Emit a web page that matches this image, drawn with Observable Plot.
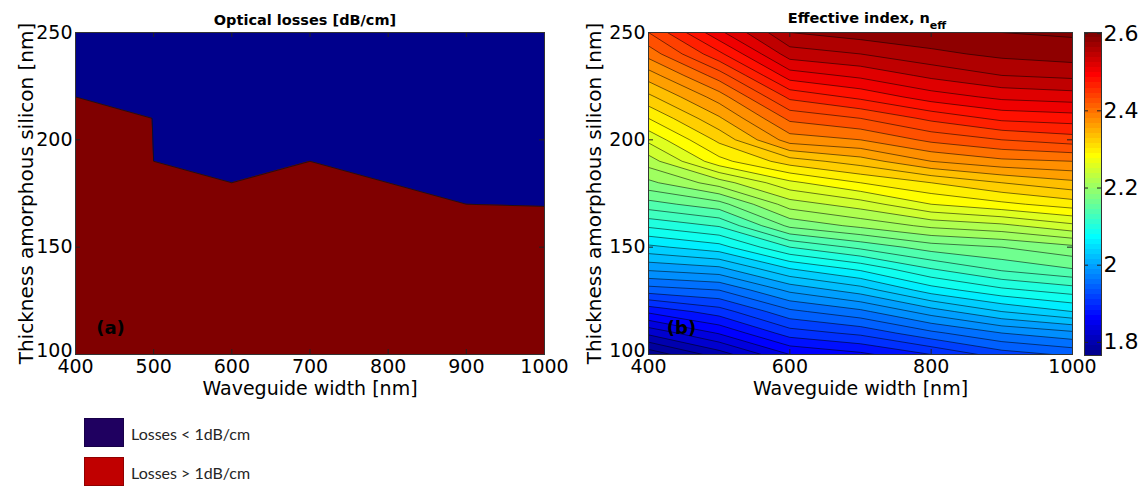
<!DOCTYPE html>
<html><head><meta charset="utf-8">
<script src="https://cdn.jsdelivr.net/npm/d3@7"></script>
<script src="https://cdn.jsdelivr.net/npm/@observablehq/plot@0.6"></script>
<style>
html,body{margin:0;padding:0;background:#fff;}
#wrap{position:relative;width:1142px;height:486px;overflow:hidden;font-family:"DejaVu Sans",sans-serif;color:#000;}
.abs{position:absolute;}
.title{font-weight:bold;font-size:14.5px;white-space:nowrap;transform:translate(-50%,-50%);}
.sw{position:absolute;left:84px;width:40px;height:29px;box-sizing:border-box;border:1px solid rgba(0,0,0,0.25);}
.lg{position:absolute;left:131px;font-family:Lato,sans-serif;font-size:16px;color:#262626;white-space:nowrap;transform:translateY(-50%);}
</style></head>
<body><div id="wrap"></div>
<script>
// ---- Panel (a): loss boundary (thickness above which losses < 1 dB/cm)
const lossWidth = [400, 498, 500, 600, 700, 800, 900, 1000];
const lossThickness = [220, 210, 190, 180, 190, 180, 170, 169];

// ---- Panel (b): effective index grid, one array per waveguide width (thickness 100 -> 250 nm)
const widths = [400, 500, 600, 700, 800, 900, 1000];
const thicknesses = [100, 110, 120, 130, 140, 150, 160, 170, 180, 190, 200, 210, 220, 230, 240, 250];
const neff400  = [1.766, 1.825, 1.884, 1.950, 2.005, 2.055, 2.104, 2.152, 2.195, 2.230, 2.265, 2.300, 2.335, 2.370, 2.408, 2.440];
const neff500  = [1.810, 1.862, 1.910, 1.960, 2.015, 2.072, 2.122, 2.172, 2.230, 2.293, 2.325, 2.357, 2.390, 2.430, 2.475, 2.515];
const neff600  = [1.860, 1.910, 1.955, 2.005, 2.060, 2.120, 2.185, 2.230, 2.275, 2.330, 2.390, 2.425, 2.465, 2.510, 2.550, 2.580];
const neff700  = [1.875, 1.925, 1.975, 2.030, 2.085, 2.145, 2.205, 2.250, 2.300, 2.350, 2.400, 2.440, 2.485, 2.525, 2.560, 2.590];
const neff800  = [1.900, 1.955, 2.010, 2.070, 2.120, 2.170, 2.225, 2.280, 2.320, 2.380, 2.425, 2.465, 2.510, 2.545, 2.575, 2.595];
const neff900  = [1.930, 1.980, 2.040, 2.095, 2.145, 2.180, 2.235, 2.295, 2.340, 2.395, 2.440, 2.485, 2.525, 2.560, 2.585, 2.600];
const neff1000 = [1.944, 1.995, 2.060, 2.110, 2.160, 2.195, 2.255, 2.310, 2.355, 2.400, 2.450, 2.490, 2.530, 2.565, 2.590, 2.603];

// ---- ticks & labels
const xTicksA = [400, 500, 600, 700, 800, 900, 1000];
const xTicksB = [400, 600, 800, 1000];
const yTicks = [100, 150, 200, 250];
const cbTicks = [1.8, 2, 2.2, 2.4, 2.6];
const titleA = "Optical losses [dB/cm]";
const titleB = "Effective index, n";
const titleBSub = "eff";
const xLabel = "Waveguide width [nm]";
const yLabel = "Thickness amorphous silicon [nm]";
const panelTags = ["(a)", "(b)"];
const legendLabels = ["Losses < 1dB/cm", "Losses > 1dB/cm"];

// ---- styling
const FONT = "DejaVu Sans";
const BLUE = "#00008C", RED = "#800000";
const LEG_COLORS = ["#1F0060", "#C00000"];
const NC = 64;

function clamp01(v){ return Math.max(0, Math.min(1, v)); }
function jetRaw(t){
  t = clamp01(t);
  const r = clamp01(1.5 - Math.abs(4*t - 3));
  const g = clamp01(1.5 - Math.abs(4*t - 2));
  const b = clamp01(1.5 - Math.abs(4*t - 1));
  return d3.rgb(r*255, g*255, b*255).formatHex();
}
// 64-entry colormap lookup (index = floor(t*64))
function jet(t){
  const k = Math.max(0, Math.min(NC - 1, Math.floor(clamp01(t) * NC)));
  return jetRaw((k + 1) / NC);
}

const columns = [neff400, neff500, neff600, neff700, neff800, neff900, neff1000];
const grid = thicknesses.flatMap((t, i) => widths.map((w, j) => columns[j][i]));
const ext = d3.extent(grid);
const levels = d3.range(88, 131).map(k => k / 50);

const W = 560, H = 405, MT = 32, MB = 51;
const frameH = H - MT - MB;
const TL = 5;

function frameMarks(xt, frameW){
  const tickText = {tickSize: 0, fontSize: 19, fontFamily: FONT, fill: "#000", tickFormat: d => String(d), label: null};
  return [
    Plot.tickX(xt, {x: d => d, stroke: "#222", insetTop: frameH - TL}),
    Plot.tickX(xt, {x: d => d, stroke: "#222", insetBottom: frameH - TL}),
    Plot.tickY(yTicks, {y: d => d, stroke: "#222", insetRight: frameW - TL}),
    Plot.tickY(yTicks, {y: d => d, stroke: "#222", insetLeft: frameW - TL}),
    Plot.frame({stroke: "#333"}),
    Plot.axisX(xt, {...tickText, tickPadding: 5}),
    Plot.axisY(yTicks.slice(1), {...tickText, tickPadding: 3}),
    Plot.axisY(yTicks.slice(0, 1), {...tickText, tickPadding: 3, dy: -4}),
    Plot.text([xLabel], {text: d => d, frameAnchor: "bottom", dy: 34, lineAnchor: "middle", fontSize: 19, fontFamily: FONT, fill: "#000"})
  ];
}

// ---- Panel (a)
const lossData = lossWidth.map((w, i) => ({w, t: lossThickness[i]}));
const frameWA = W - 75 - 16;
const plotA = Plot.plot({
  width: W, height: H, marginLeft: 75, marginRight: 16, marginTop: MT, marginBottom: MB,
  style: {fontFamily: FONT, background: "transparent", overflow: "visible"},
  x: {domain: [400, 1000], label: null},
  y: {domain: [100, 250], label: null},
  marks: [
    Plot.frame({fill: BLUE}),
    Plot.areaY(lossData, {x: "w", y1: 100, y2: "t", fill: RED}),
    Plot.line(lossData, {x: "w", y: "t", stroke: "#111", strokeWidth: 0.8}),
    ...frameMarks(xTicksA, frameWA),
    Plot.text([yLabel], {text: d => d, frameAnchor: "left", rotate: -90, dx: -49, textAnchor: "middle", lineAnchor: "middle", fontSize: 20, fontFamily: FONT, fill: "#000"}),
    Plot.text([panelTags[0]], {text: d => d, frameAnchor: "bottom-left", dx: 35, dy: -26, textAnchor: "middle", lineAnchor: "middle", fontSize: 18, fontWeight: "bold", fontFamily: FONT, fill: "#000"})
  ]
});

// ---- Panel (b)
const WB = 582, MLB = 88, MRB = 70;
const frameWB = WB - MLB - MRB;
const dw = widths[1] - widths[0], dt = thicknesses[1] - thicknesses[0];
const plotB = Plot.plot({
  width: WB, height: H, marginLeft: MLB, marginRight: MRB, marginTop: MT, marginBottom: MB,
  style: {fontFamily: FONT, background: "transparent", overflow: "visible"},
  x: {domain: [400, 1000], label: null},
  y: {domain: [100, 250], label: null},
  color: {type: "linear", domain: ext, interpolate: jet},
  marks: [
    Plot.contour(grid, {
      width: widths.length, height: thicknesses.length,
      x1: widths[0] - dw/2, x2: widths[widths.length-1] + dw/2,
      y1: thicknesses[0] - dt/2, y2: thicknesses[thicknesses.length-1] + dt/2,
      fill: Plot.identity, thresholds: levels,
      stroke: "#000", strokeOpacity: 0.75, strokeWidth: 0.7, clip: true
    }),
    ...frameMarks(xTicksB, frameWB),
    Plot.text([yLabel], {text: d => d, frameAnchor: "left", rotate: -90, dx: -54, textAnchor: "middle", lineAnchor: "middle", fontSize: 20, fontFamily: FONT, fill: "#000"}),
    Plot.text([panelTags[1]], {text: d => d, frameAnchor: "bottom-left", dx: 33, dy: -26, textAnchor: "middle", lineAnchor: "middle", fontSize: 18, fontWeight: "bold", fontFamily: FONT, fill: "#000"})
  ]
});

// ---- Colorbar
const cbSteps = d3.range(NC);
const plotC = Plot.plot({
  width: 82, height: H, marginLeft: 24, marginRight: 41, marginTop: MT, marginBottom: MB - 1,
  style: {fontFamily: FONT, background: "transparent", overflow: "visible"},
  x: {domain: [0, 1], axis: null},
  y: {domain: ext, axis: null},
  marks: [
    Plot.rect(cbSteps, {x1: 0, x2: 1,
      y1: i => ext[0] + i * (ext[1] - ext[0]) / NC,
      y2: i => ext[0] + (i + 1) * (ext[1] - ext[0]) / NC,
      fill: i => jet((i + 0.5) / NC), shapeRendering: "crispEdges"}),
    Plot.tickY(cbTicks, {y: d => d, stroke: "#222", insetRight: 13}),
    Plot.tickY(cbTicks, {y: d => d, stroke: "#222", insetLeft: 13}),
    Plot.frame({stroke: "#333"}),
    Plot.axisY(cbTicks, {anchor: "right", tickSize: 0, tickPadding: 2, fontSize: 22, fontFamily: FONT, fill: "#000", tickFormat: d => String(d), label: null})
  ]
});

const wrap = document.getElementById("wrap");
function place(el, x, y){ el.style.position = "absolute"; el.style.left = x + "px"; el.style.top = y + "px"; wrap.appendChild(el); }
place(plotA, 0, 0);
place(plotB, 560, 0);
place(plotC, 1060, 0);

// titles
const tA = document.createElement("div");
tA.className = "abs title"; tA.textContent = titleA;
tA.style.left = "305px"; tA.style.top = "20px";
wrap.appendChild(tA);
const tB = document.createElement("div");
tB.className = "abs title";
tB.appendChild(document.createTextNode(titleB));
const sub = document.createElement("span");
sub.textContent = titleBSub;
sub.style.fontSize = "11px"; sub.style.position = "relative"; sub.style.top = "6px";
tB.appendChild(sub);
tB.style.left = "867px"; tB.style.top = "18px";
wrap.appendChild(tB);

// legend
const legTops = [418, 457];
legendLabels.forEach((lab, i) => {
  const sw = document.createElement("div");
  sw.className = "sw"; sw.style.top = legTops[i] + "px"; sw.style.background = LEG_COLORS[i];
  wrap.appendChild(sw);
  const tx = document.createElement("div");
  tx.className = "lg"; tx.textContent = lab; tx.style.top = (legTops[i] + 15) + "px";
  wrap.appendChild(tx);
});
</script>
</body></html>
